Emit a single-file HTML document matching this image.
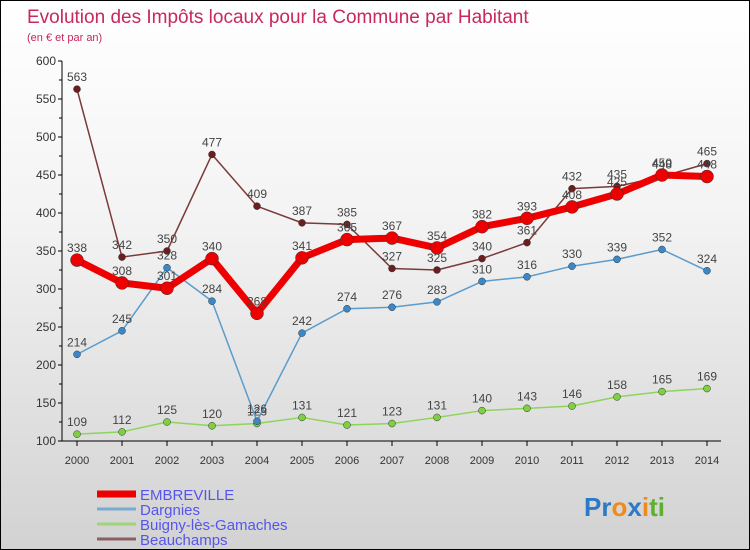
<!DOCTYPE html>
<html><head><meta charset="utf-8"><style>
body{margin:0;}
#c{width:750px;height:550px;position:relative;overflow:hidden;background:linear-gradient(#ffffff 0%,#f3f3f3 40%,#d2d2d2 100%);box-sizing:border-box;border:1px solid #000;font-family:"Liberation Sans",sans-serif;}
svg text{font-family:"Liberation Sans",sans-serif;}
</style></head><body>
<div id="c">
<svg id="s" width="750" height="550" style="position:absolute;left:0;top:0">
<text x="26" y="22" font-size="19" fill="#c8285a">Evolution des Impôts locaux pour la Commune par Habitant</text>
<text x="26" y="40" font-size="11" fill="#c8285a">(en € et par an)</text>
<g id="axes"></g><g id="series"></g><g id="legend"></g>
<text x="583" y="515" font-size="26" font-weight="bold"><tspan fill="#2a7ac8">Pr</tspan><tspan fill="#f08a1c">o</tspan><tspan fill="#2a7ac8">x</tspan><tspan fill="#f08a1c">i</tspan><tspan fill="#60b030">ti</tspan></text>
</svg>
</div>
<script>
const years=[2000,2001,2002,2003,2004,2005,2006,2007,2008,2009,2010,2011,2012,2013,2014];
const yTicks=[100,150,200,250,300,350,400,450,500,550,600];
const embreville=[338,308,301,340,268,341,365,367,354,382,393,408,425,450,448];
const dargnies=[214,245,328,284,126,242,274,276,283,310,316,330,339,352,324];
const buigny=[109,112,125,120,123,131,121,123,131,140,143,146,158,165,169];
const beauchamps=[563,342,350,477,409,387,385,327,325,340,361,432,435,448,465];
const NS='http://www.w3.org/2000/svg';
function X(i){return 76+i*45;}
function Y(v){return 440-(v-100)*0.76;}
function mk(t,a,p){const e=document.createElementNS(NS,t);for(const k in a)e.setAttribute(k,a[k]);p.appendChild(e);return e;}
const ax=document.getElementById('axes');
let l=mk('line',{x1:61,y1:60,x2:61,y2:440,stroke:'#000'},ax);


l=mk('line',{x1:61,y1:440,x2:720,y2:440,stroke:'#000'},ax);


yTicks.forEach(v=>{mk('line',{x1:57,y1:Y(v),x2:61,y2:Y(v),stroke:'#000'},ax);
if(v<600)mk('line',{x1:58,y1:Y(v+25),x2:61,y2:Y(v+25),stroke:'#000'},ax);
const t=mk('text',{x:55,y:Y(v)+4,'font-size':12,'text-anchor':'end',fill:'#333'},ax);t.textContent=v;

});
years.forEach((y,i)=>{mk('line',{x1:X(i),y1:440,x2:X(i),y2:445,stroke:'#000'},ax);
const t=mk('text',{x:X(i),y:463,'font-size':11,'text-anchor':'middle',fill:'#333'},ax);t.textContent=y;

});
const sg=document.getElementById('series');
function draw(vals,color,w,r,dot,name){
const g=mk('g',{},sg);


mk('polyline',{points:vals.map((v,i)=>X(i)+','+Y(v)).join(' '),fill:'none',stroke:color,'stroke-width':w,'stroke-linejoin':'round'},g);
vals.forEach((v,i)=>{const c=mk('circle',{cx:X(i),cy:Y(v),r:r,fill:dot,stroke:'#333','stroke-width':0.5},g);


const t=mk('text',{x:X(i),y:Y(v)-8,'font-size':12,'text-anchor':'middle',fill:'#444'},g);t.textContent=v;});
}
draw(buigny,'#8ed45a',1.5,3.5,'#7ed040','buigny');
draw(dargnies,'#5a9ccc',1.5,3.5,'#3a88c8','dargnies');
draw(beauchamps,'#7a3a3a',1.5,3.5,'#6a1e1e','beauchamps');
draw(embreville,'#ee0000',7,6.5,'#ee0000','embreville');
const lg=document.getElementById('legend');
[['EMBREVILLE','#ee0000',7],['Dargnies','#7aaad0',3],['Buigny-lès-Gamaches','#9ed47a',3],['Beauchamps','#8a6060',3]].forEach((d,i)=>{
const y=493+i*15;
const g=mk('g',{},lg);


mk('line',{x1:96,y1:y,x2:135,y2:y,stroke:d[1],'stroke-width':d[2]},g);
const t=mk('text',{x:139,y:y+6,'font-size':15,fill:'#5555ee'},g);t.textContent=d[0];});
</script>
</body></html>
